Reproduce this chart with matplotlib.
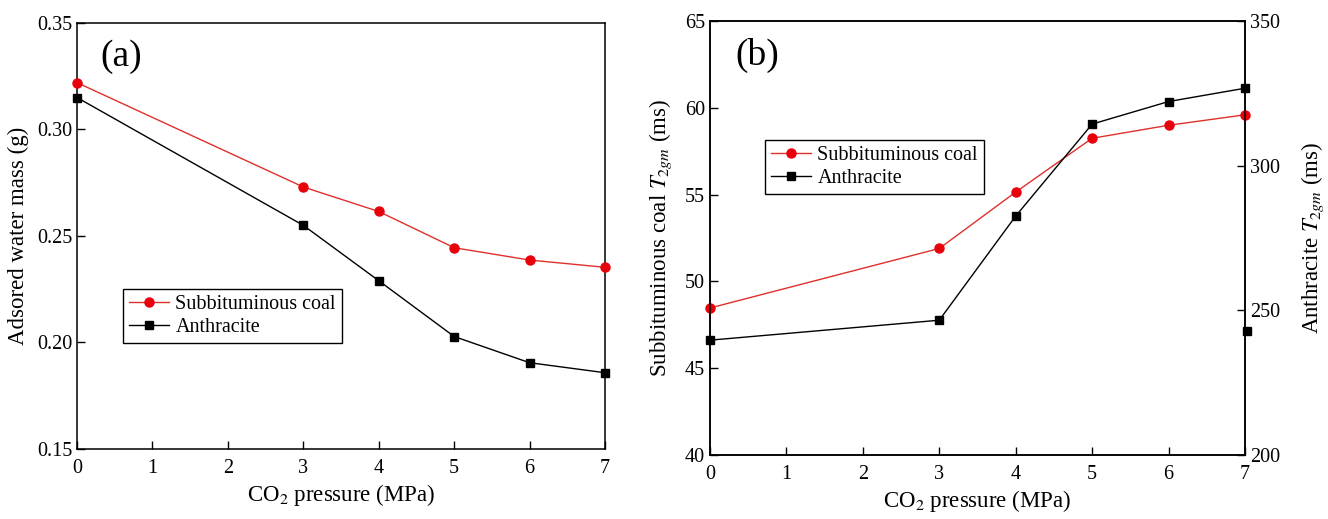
import numpy as np
import matplotlib.pyplot as plt

plt.rcParams['font.family'] = ['Liberation Serif', 'DejaVu Serif']
plt.rcParams['mathtext.fontset'] = 'stix'

# CO2 pressure steps (MPa)
pressure = [0, 3, 4, 5, 6, 7]

# (a) adsorbed water mass (g)
mass_sub = [0.322, 0.273, 0.2615, 0.2445, 0.2387, 0.2353]
mass_anth = [0.315, 0.255, 0.229, 0.2028, 0.1905, 0.1858]

# (b) T2gm (ms)
t2_sub = [48.47, 51.9, 55.15, 58.25, 59.0, 59.6]
t2_anth = [239.7, 246.6, 282.6, 314.4, 322.2, 326.8]
t2_anth_extra_x = [7.02]
t2_anth_extra_y = [242.8]

red_line = '#e0302c'
red_mark = '#e8000b'

fig = plt.figure(figsize=(13.28, 5.19), dpi=100)
axa = fig.add_axes([0.058, 0.1349, 0.3976, 0.8208])
axb = fig.add_axes([0.5346, 0.1233, 0.4029, 0.836])

tick_fs = 14.5
lab_fs = 16.5
leg_fs = 14.5

def style(ax):
    ax.tick_params(direction='in', length=6, width=1, labelsize=tick_fs)
    ax.tick_params(axis='x', pad=7)
    for s in ax.spines.values():
        s.set_linewidth(1.1)

def legend(ax, handles, labels, anchor):
    leg = ax.legend(handles, labels, loc='upper left', bbox_to_anchor=anchor,
                    fontsize=leg_fs, frameon=True, fancybox=False,
                    edgecolor='black', framealpha=1, handlelength=2.0,
                    borderpad=0.3, labelspacing=0.2, handletextpad=0.3)
    leg.get_frame().set_linewidth(1)
    return leg

# ---- panel (a)
la1, = axa.plot(pressure, mass_sub, '-o', color=red_line, mfc=red_mark, mec=red_mark,
                lw=1, ms=6.5, clip_on=False, zorder=3)
la2, = axa.plot(pressure, mass_anth, '-s', color='black', lw=1, ms=6,
                clip_on=False, zorder=3)
axa.set_xlim(0, 7)
axa.set_ylim(0.15, 0.35)
axa.set_xticks(np.arange(0, 8, 1))
axa.set_yticks(np.arange(0.15, 0.351, 0.05))
axa.set_yticklabels(['0.15', '0.20', '0.25', '0.30', '0.35'])
style(axa)
axa.set_xlabel('CO$_2$ pressure (MPa)', fontsize=lab_fs, labelpad=3)
axa.set_ylabel('Adsored water mass (g)', fontsize=lab_fs, labelpad=6)
axa.text(0.044, 0.92, '(a)', transform=axa.transAxes, fontsize=27, va='center')
legend(axa, [la1, la2], ['Subbituminous coal', 'Anthracite'], (0.068, 0.40))

# ---- panel (b)
axr = axb.twinx()
lb1, = axb.plot(pressure, t2_sub, '-o', color=red_line, mfc=red_mark, mec=red_mark,
                lw=1, ms=6.5, clip_on=False, zorder=3)
lb2, = axr.plot(pressure, t2_anth, '-s', color='black', lw=1, ms=6,
                clip_on=False, zorder=3)
axr.plot(t2_anth_extra_x, t2_anth_extra_y, 's', color='black', ms=6, clip_on=False)
axb.set_xlim(0, 7)
axb.set_ylim(40, 65)
axr.set_ylim(200, 350)
axb.set_xticks(np.arange(0, 8, 1))
axb.set_yticks(np.arange(40, 66, 5))
axr.set_yticks([200, 250, 300, 350])
style(axb)
style(axr)
axb.set_xlabel('CO$_2$ pressure (MPa)', fontsize=lab_fs, labelpad=3)
axb.set_ylabel('Subbituminous coal $T_{2gm}$ (ms)', fontsize=lab_fs, labelpad=8)
axr.set_ylabel('Anthracite $T_{2gm}$ (ms)', fontsize=lab_fs, labelpad=14)
axb.text(0.047, 0.92, '(b)', transform=axb.transAxes, fontsize=27, va='center')
legend(axb, [lb1, lb2], ['Subbituminous coal', 'Anthracite'], (0.084, 0.75))

fig.savefig('out.png', dpi=100)
